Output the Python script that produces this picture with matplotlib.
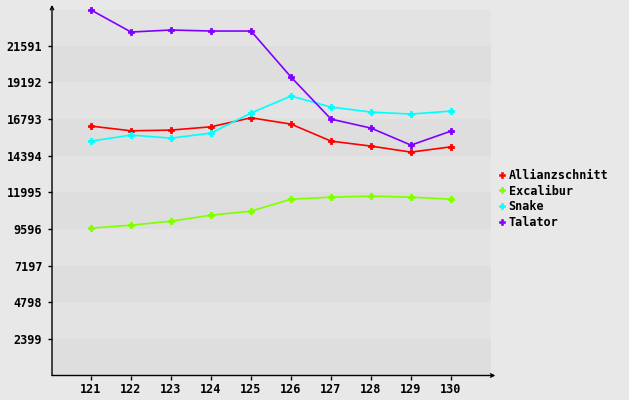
import matplotlib.pyplot as plt
from matplotlib.lines import Line2D

# Data
rounds = [121, 122, 123, 124, 125, 126, 127, 128, 129, 130]
allianzschnitt = [16335, 16027, 16073, 16289, 16879, 16466, 15352, 15024, 14631, 14978]
excalibur = [9649, 9845, 10107, 10500, 10763, 11548, 11680, 11746, 11680, 11548]
snake = [15352, 15745, 15548, 15876, 17187, 18302, 17581, 17253, 17122, 17318]
talator = [23939, 22497, 22628, 22562, 22562, 19547, 16794, 16204, 15090, 16007]

series_names = ["Allianzschnitt", "Excalibur", "Snake", "Talator"]
series_colors = ["#ff0000", "#80ff00", "#00ffff", "#8000ff"]
y_ticks = [2399, 4798, 7197, 9596, 11995, 14394, 16793, 19192, 21591]

font = {"family": "DejaVu Sans Mono", "weight": "bold", "size": 8.5}

fig = plt.figure(figsize=(6.29, 4.0), dpi=100)
fig.patch.set_facecolor("#e8e8e8")
ax = fig.add_axes([52 / 629, 24.5 / 400, 439 / 629, 365.5 / 400])
ax.set_facecolor("#e8e8e8")

ymax = max(talator)
ax.set_ylim(0, ymax)
ax.set_xlim(120.025, 131.0)

# alternating horizontal bands between tick values
edges = [0] + y_ticks + [ymax]
for i in range(len(edges) - 1):
    shade = "#dedede" if (len(edges) - 2 - i) % 2 == 1 else "#e3e3e3"
    ax.axhspan(edges[i], edges[i + 1], color=shade, lw=0, zorder=0)

all_series = [allianzschnitt, excalibur, snake, talator]
for vals, col in zip(all_series, series_colors):
    ax.plot(rounds, vals, color=col, lw=1.2, marker="P", markersize=5,
            markeredgewidth=0.6, clip_on=False, zorder=3)

# axes with arrows
for s in ax.spines.values():
    s.set_visible(False)
ax.annotate("", xy=(0, 1.014), xytext=(0, 0), xycoords="axes fraction",
            arrowprops=dict(arrowstyle="->", color="black", lw=1,
                            shrinkA=0, shrinkB=0, mutation_scale=6))
ax.annotate("", xy=(1.01, 0), xytext=(0, 0), xycoords="axes fraction",
            arrowprops=dict(arrowstyle="->", color="black", lw=1,
                            shrinkA=0, shrinkB=0, mutation_scale=6))

ax.set_yticks(y_ticks)
ax.set_yticklabels([str(t) for t in y_ticks], fontdict=font)
ax.set_xticks(rounds)
ax.set_xticklabels([str(r) for r in rounds], fontdict=font)
ax.tick_params(axis="both", length=3, width=1, color="black", direction="out")
ax.tick_params(axis="y", pad=4)
ax.tick_params(axis="x", pad=2.5)

handles = [Line2D([], [], color=c, marker="P", linestyle="none", markersize=4.5,
                  markeredgewidth=0.4) for c in series_colors]
leg = ax.legend(handles, series_names, loc="upper left",
                bbox_to_anchor=(498 / 629, 231 / 400), bbox_transform=fig.transFigure,
                frameon=False, prop=font, handlelength=0.6, handletextpad=0.3,
                labelspacing=0.22, borderpad=0, borderaxespad=0)

fig.savefig("out.png", dpi=100, facecolor=fig.get_facecolor())
